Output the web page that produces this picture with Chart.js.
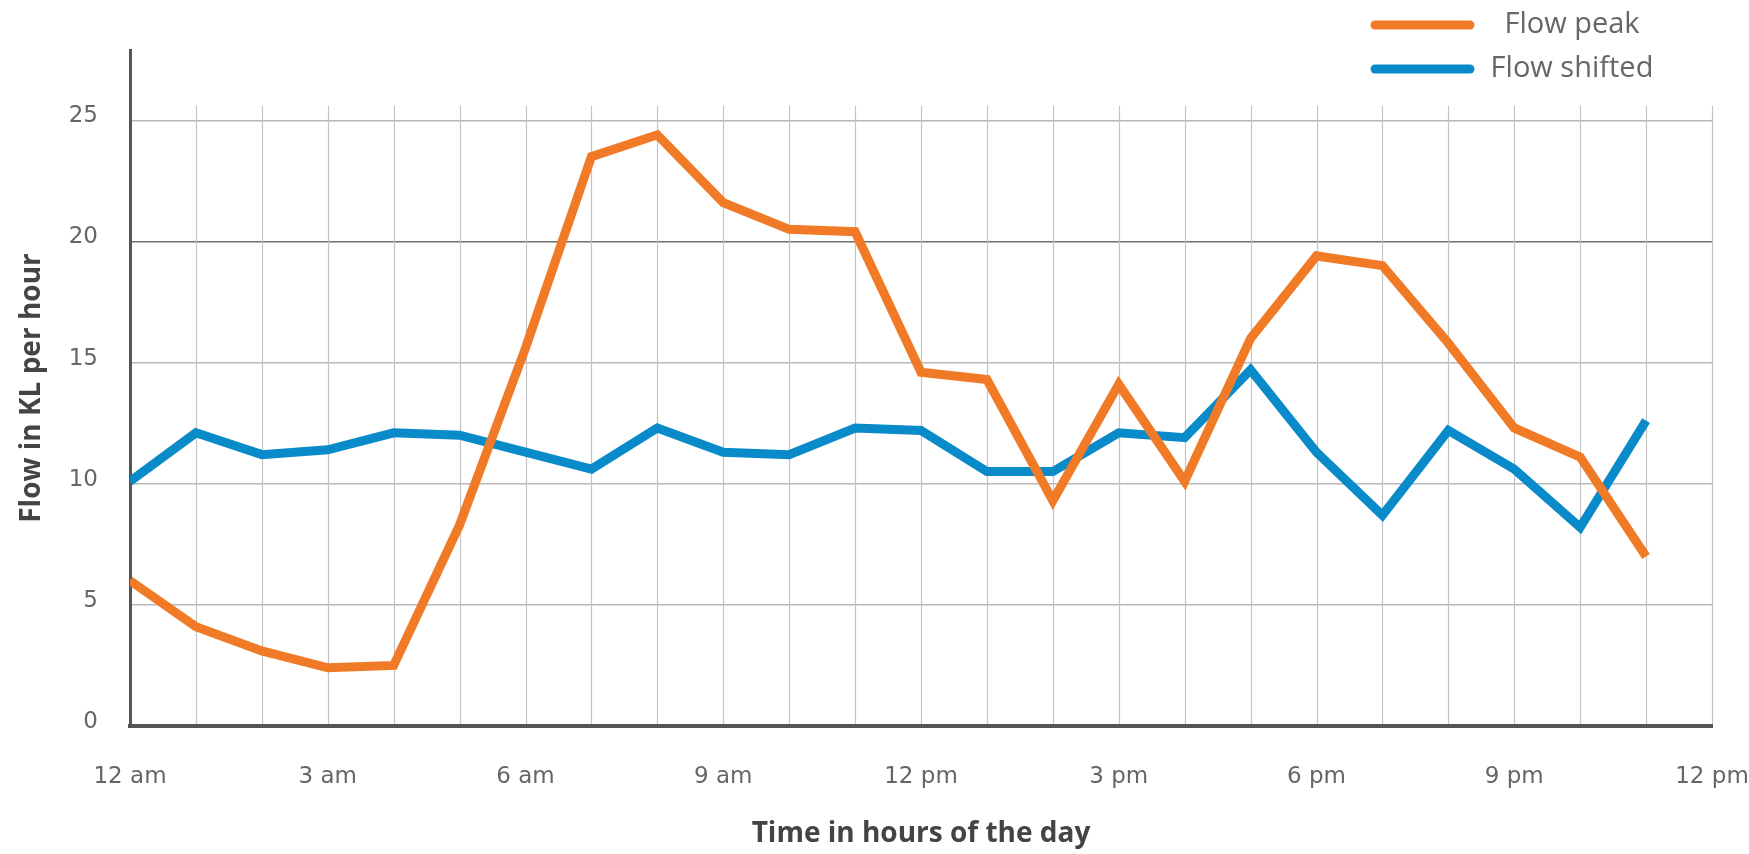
<!DOCTYPE html>
<html>
<head>
<meta charset="utf-8">
<script src="https://cdn.jsdelivr.net/npm/chart.js@4.4.0/dist/chart.umd.min.js"></script>
<style>
  html, body { margin: 0; padding: 0; background: #fff; }
  #wrap { width: 1749px; height: 854px; }
</style>
</head>
<body>
<div id="wrap"><canvas id="flowChart" width="1749" height="854"></canvas></div>
<script>
// hours of the day, 0 = 12 am
var hours = [0, 1, 2, 3, 4, 5, 6, 7, 8, 9, 10, 11, 12, 13, 14, 15, 16, 17, 18, 19, 20, 21, 22, 23];
var flowPeak = [6.0, 4.1, 3.1, 2.4, 2.5, 8.3, 15.6, 23.5, 24.4, 21.6, 20.5, 20.4,
                14.6, 14.3, 9.3, 14.1, 10.1, 16.0, 19.4, 19.0, 15.8, 12.3, 11.1, 7.0];
var flowShifted = [10.1, 12.1, 11.2, 11.4, 12.1, 12.0, 11.3, 10.6, 12.3, 11.3, 11.2, 12.3,
                   12.2, 10.5, 10.5, 12.1, 11.9, 14.7, 11.3, 8.7, 12.2, 10.6, 8.2, 12.6];
var xTickLabels = ['12 am', '3 am', '6 am', '9 am', '12 pm', '3 pm', '6 pm', '9 pm', '12 pm'];
var yTickValues = [0, 5, 10, 15, 20, 25];

function toPoints(values) {
    return values.map(function (v, i) { return { x: hours[i], y: v }; });
}

// vertical hour lines, they stop a little above 25 like the original
var hourLines = {
    id: 'hourLines',
    beforeDatasetsDraw: function (chart) {
        var ctx = chart.ctx;
        var xs = chart.scales.x, ys = chart.scales.y;
        var y0 = ys.getPixelForValue(0) - 2;
        var y1 = ys.getPixelForValue(25.6);
        ctx.save();
        ctx.strokeStyle = '#c4c4c4';
        ctx.lineWidth = 1.2;
        xs.ticks.forEach(function (t) {
            if (t.value === 0) return;
            var px = Math.round(xs.getPixelForValue(t.value)) + 0.5;
            ctx.beginPath();
            ctx.moveTo(px, y0);
            ctx.lineTo(px, y1);
            ctx.stroke();
        });
        ctx.restore();
    }
};

// stacked legend in the top right corner
var stackedLegend = {
    id: 'stackedLegend',
    afterDraw: function (chart) {
        var ctx = chart.ctx;
        ctx.save();
        ctx.font = '29px "Open Sans"';
        ctx.textBaseline = 'middle';
        ctx.textAlign = 'center';
        chart.data.datasets.forEach(function (ds, i) {
            var y = 25 + i * 44;
            ctx.strokeStyle = ds.borderColor;
            ctx.lineWidth = 9;
            ctx.lineCap = 'round';
            ctx.beginPath();
            ctx.moveTo(1375, y);
            ctx.lineTo(1470, y);
            ctx.stroke();
            ctx.fillStyle = '#666';
            ctx.fillText(ds.label, 1572, y);
        });
        ctx.restore();
    }
};

var ctx = document.getElementById('flowChart').getContext('2d');

var flowChart = new Chart(ctx, {
    type: 'line',
    data: {
        datasets: [
            {
                label: 'Flow peak',
                data: toPoints(flowPeak),
                borderColor: '#f07a25',
                borderWidth: 9,
                pointRadius: 0,
                tension: 0
            },
            {
                label: 'Flow shifted',
                data: toPoints(flowShifted),
                borderColor: '#0a8bc9',
                borderWidth: 9,
                pointRadius: 0,
                tension: 0
            }
        ]
    },
    options: {
        responsive: false,
        animation: false,
        layout: { padding: { top: 50, right: 37, left: 0, bottom: 0 } },
        plugins: {
            legend: { display: false },
            tooltip: { enabled: false }
        },
        scales: {
            x: {
                type: 'linear',
                min: 0,
                max: 24,
                afterFit: function (axis) {
                    axis.height = 128;
                    axis.paddingLeft = 0;
                    axis.paddingRight = 0;
                },
                grid: { display: false, drawTicks: false },
                border: { color: '#555', width: 4 },
                ticks: {
                    stepSize: 1,
                    autoSkip: false,
                    maxRotation: 0,
                    padding: 37,
                    color: '#666',
                    font: { family: 'DejaVu Sans', size: 23 },
                    callback: function (v) { return v % 3 === 0 ? xTickLabels[v / 3] : ''; }
                },
                title: {
                    display: true,
                    text: 'Time in hours of the day',
                    color: '#444',
                    font: { family: 'Open Sans', size: 28, weight: 'bold' },
                    padding: { top: 4, bottom: 3 }
                }
            },
            y: {
                min: 0,
                max: 27.9,
                afterBuildTicks: function (axis) {
                    axis.ticks = yTickValues.map(function (v) { return { value: v }; });
                },
                afterFit: function (axis) { axis.width = 130; },
                grid: {
                    drawTicks: false,
                    lineWidth: 1.5,
                    color: function (c) { return c.tick && c.tick.value === 20 ? '#6e6e6e' : '#b8b8b8'; }
                },
                border: { color: '#555', width: 3 },
                ticks: {
                    padding: 32,
                    labelOffset: -4,
                    color: '#666',
                    font: { family: 'DejaVu Sans', size: 23 }
                },
                title: {
                    display: true,
                    text: 'Flow in KL per hour',
                    color: '#444',
                    font: { family: 'Open Sans', size: 28, weight: 'bold' },
                    padding: { top: 15, bottom: 4 }
                }
            }
        }
    },
    plugins: [hourLines, stackedLegend]
});
</script>
</body>
</html>
